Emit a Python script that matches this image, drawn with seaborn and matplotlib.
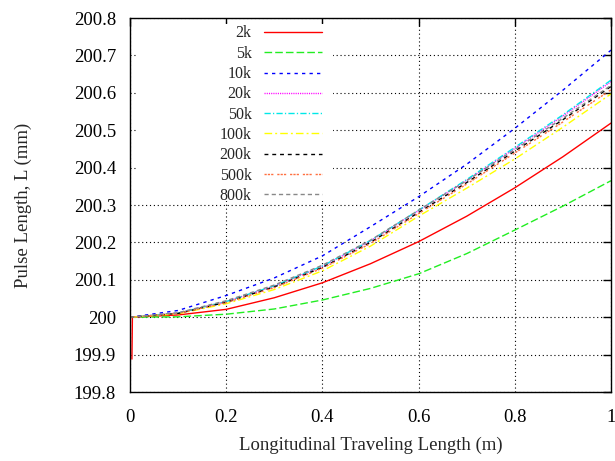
import matplotlib
matplotlib.use("Agg")
import matplotlib.pyplot as plt
from matplotlib.ticker import FuncFormatter
from matplotlib.patches import Rectangle
import seaborn as sns

# ---- data ----
x_pos = [0.0, 0.1, 0.2, 0.3, 0.4, 0.5, 0.6, 0.7, 0.8, 0.9, 1.0]
x_2k = [0.004, 0.005, 0.1, 0.2, 0.3, 0.4, 0.5, 0.6, 0.7, 0.8, 0.9, 1.0]

L_2k = [199.888, 200.000, 200.006, 200.021, 200.052, 200.092, 200.143, 200.202, 200.270, 200.346, 200.429, 200.519]
L_5k = [200.000, 200.001, 200.008, 200.022, 200.046, 200.077, 200.116, 200.170, 200.233, 200.297, 200.365]
L_10k = [200.000, 200.018, 200.058, 200.105, 200.164, 200.242, 200.322, 200.409, 200.505, 200.607, 200.714]
L_20k = [200.000, 200.011, 200.042, 200.083, 200.136, 200.204, 200.285, 200.366, 200.451, 200.538, 200.630]
L_50k = [200.000, 200.011, 200.042, 200.084, 200.137, 200.205, 200.286, 200.368, 200.454, 200.541, 200.634]
L_100k = [200.000, 200.009, 200.036, 200.074, 200.124, 200.190, 200.270, 200.345, 200.423, 200.508, 200.597]
L_200k = [200.000, 200.010, 200.040, 200.081, 200.133, 200.200, 200.280, 200.360, 200.444, 200.528, 200.617]
L_500k = [200.000, 200.010, 200.039, 200.079, 200.131, 200.197, 200.277, 200.356, 200.439, 200.522, 200.608]
L_800k = [200.000, 200.012, 200.044, 200.086, 200.139, 200.206, 200.286, 200.365, 200.448, 200.532, 200.620]

series_labels = ["2k", "5k", "10k", "20k", "50k", "100k", "200k", "500k", "800k"]
series_x = [x_2k, x_pos, x_pos, x_pos, x_pos, x_pos, x_pos, x_pos, x_pos]
series_y = [L_2k, L_5k, L_10k, L_20k, L_50k, L_100k, L_200k, L_500k, L_800k]

x_ticks = [0.0, 0.2, 0.4, 0.6, 0.8, 1.0]
y_ticks = [199.8, 199.9, 200.0, 200.1, 200.2, 200.3, 200.4, 200.5, 200.6, 200.7, 200.8]

# ---- styles ----
colors = ["#ff0000", "#22ee22", "#0000ff", "#ff00ff", "#00e8e8",
          "#ffff00", "#000000", "#ff7040", "#888888"]
styles = ["-",
          (0, (5.5, 2.2)),
          (0, (2.4, 3.0)),
          (0, (0.8, 0.8)),
          (0, (4.5, 1.6, 0.9, 1.6)),
          (0, (5.5, 2.2, 1.4, 2.2)),
          (0, (2.8, 2.8)),
          (0, (1.6, 0.8, 1.6, 0.8, 1.6, 2.8)),
          (0, (3.0, 2.2))]

sns.set_style("white")
plt.rcParams["font.family"] = ["Liberation Serif", "DejaVu Serif"]

fig = plt.figure(figsize=(6.15, 4.61), dpi=100)
ax = fig.add_axes([130 / 615, 1 - 392 / 461, 481 / 615, 374 / 461])

for lab, xs, ys, c, ls in zip(series_labels, series_x, series_y, colors, styles):
    sns.lineplot(x=xs, y=ys, ax=ax, color=c, linestyle=ls, linewidth=1.0,
                 label=lab, estimator=None, sort=False, legend=False)

ax.set_xlim(0, 1)
ax.set_ylim(199.8, 200.8)
ax.set_xticks(x_ticks)
ax.set_yticks(y_ticks)
fmt = FuncFormatter(lambda v, p: "%g" % round(v, 4))
ax.xaxis.set_major_formatter(fmt)
ax.yaxis.set_major_formatter(fmt)

ax.grid(True, color="black", linestyle=(0, (1, 2.5)), linewidth=0.8)
ax.set_axisbelow(True)
for s in ax.spines.values():
    s.set_color("black")
    s.set_linewidth(1.0)
    s.set_zorder(3)

ax.tick_params(direction="in", top=True, right=True, length=6, width=1,
               labelsize=13.5, colors="black", pad=10)
ax.tick_params(axis="x", pad=12)

ax.set_xlabel("Longitudinal Traveling Length (m)", fontsize=13.5, labelpad=8)
ax.set_ylabel("Pulse Length, L (mm)", fontsize=13.5, labelpad=30)

# opaque key area (hides grid behind the key, like gnuplot)
ax.add_patch(Rectangle((0.016, 0.51), 0.406, 0.473, transform=ax.transAxes,
                       facecolor="white", edgecolor="none", zorder=1))

leg = ax.legend(loc="upper right", bbox_to_anchor=(0.399, 0.980),
                frameon=False, markerfirst=False, fontsize=11.5,
                handlelength=3.6, handletextpad=0.8, labelspacing=0.27,
                borderpad=0, borderaxespad=0)

fig.savefig("out.png", dpi=100)
